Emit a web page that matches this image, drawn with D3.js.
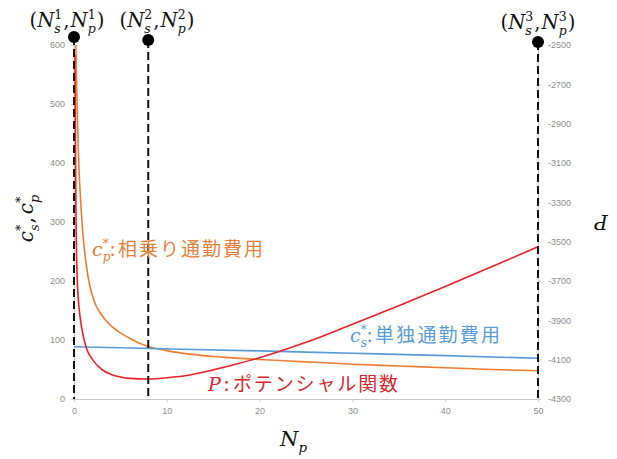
<!DOCTYPE html>
<html><head><meta charset="utf-8">
<script src="https://cdn.jsdelivr.net/npm/d3@7"></script>
<style>
body{margin:0;background:#fff;}
svg{display:block;}
</style></head>
<body>
<svg id="chart" width="617" height="459"></svg>
<script>
// ---------- data ----------
const xTicks = [0, 10, 20, 30, 40, 50];
const leftTicks = [0, 100, 200, 300, 400, 500, 600];
const rightTicks = [-4300, -4100, -3900, -3700, -3500, -3300, -3100, -2900, -2700, -2500];

// c_s* (single commute cost), left axis
const npBlue = [0, 10, 20, 30, 40, 50];
const csVals = [88.5, 85, 81.5, 77.5, 73.5, 69];

// c_p* (ride-share commute cost), left axis
const npOrange = [0.2, 0.3, 0.45, 0.6, 0.8, 1.0, 1.3, 1.7, 2.2, 3, 4, 5, 6, 7, 8, 10, 12.5, 16, 20, 25, 30, 35, 40, 45, 50];
const cpVals   = [600, 520, 430, 370, 315, 272, 230, 192, 165, 142, 124, 112, 103, 95, 89, 82, 76, 71, 67, 63, 59, 56, 53, 50, 48];

// P (potential function), right axis
const npRed = [0.1, 0.2, 0.3, 0.45, 0.65, 1.0, 1.4, 2, 3, 4, 5, 6, 8, 10, 12.5, 15, 17.5, 20, 25, 30, 35, 40, 45, 50];
const pVals = [-2550, -3300, -3620, -3780, -3880, -3980, -4050, -4100, -4150, -4175, -4188, -4195, -4198, -4192, -4178, -4152, -4122, -4090, -4012, -3920, -3826, -3728, -3628, -3526];

// equilibrium markers (N_p values)
const eqNp = [0, 8, 50];
const eqIdx = ["1", "2", "3"];

// ---------- chart ----------
const svg = d3.select("#chart");
const x = d3.scaleLinear().domain([0, 50]).range([74, 538]);
const yL = d3.scaleLinear().domain([0, 600]).range([399, 45]);
const yR = d3.scaleLinear().domain([-4300, -2500]).range([399, 45]);

const tickFont = "Liberation Sans, Arial, sans-serif";
const tickColor = "#8c8c8c";

function styleAxis(g) {
  g.selectAll("text").attr("font-family", tickFont).attr("font-size", 9).attr("fill", tickColor);
  g.selectAll("line").attr("stroke", "#d0d0d0");
  g.select(".domain").attr("stroke", "#c8c8c8");
}

svg.append("g").attr("transform", "translate(0,399)")
  .call(d3.axisBottom(x).tickValues(xTicks).tickSize(3).tickPadding(6).tickSizeOuter(0))
  .call(styleAxis);
svg.append("g").attr("transform", "translate(74,0)")
  .call(d3.axisLeft(yL).tickValues(leftTicks).tickSize(3).tickPadding(6).tickSizeOuter(0))
  .call(styleAxis);
svg.append("g").attr("transform", "translate(538,0)")
  .call(d3.axisRight(yR).tickValues(rightTicks).tickSize(3).tickPadding(7).tickSizeOuter(0).tickFormat(d => String(d)))
  .call(styleAxis);

// curves
const lineL = d3.line().curve(d3.curveMonotoneX);
svg.append("path")
  .attr("d", lineL(npOrange.map((n, i) => [x(n), yL(cpVals[i])])))
  .attr("fill", "none").attr("stroke", "#ED7D31").attr("stroke-width", 1.6);
svg.append("path")
  .attr("d", lineL(npBlue.map((n, i) => [x(n), yL(csVals[i])])))
  .attr("fill", "none").attr("stroke", "#5B9BD5").attr("stroke-width", 1.6);
svg.append("path")
  .attr("d", lineL(npRed.map((n, i) => [x(n), yR(pVals[i])])))
  .attr("fill", "none").attr("stroke", "#E8212A").attr("stroke-width", 1.6);

// dashed vertical lines + dots
const dotY = [37, 40, 42];
eqNp.forEach((n, i) => {
  svg.append("line").attr("x1", x(n)).attr("x2", x(n)).attr("y1", dotY[i]).attr("y2", 399)
    .attr("stroke", "#111").attr("stroke-width", 2).attr("stroke-dasharray", "8,4");
  svg.append("circle").attr("cx", x(n)).attr("cy", dotY[i]).attr("r", 6).attr("fill", "#000");
});

// math text helper
function drawMath(g, items, fs) {
  let cx = 0;
  items.forEach(it => {
    if (it.base !== undefined) {
      const t = g.append("text").attr("x", cx).attr("y", 0).attr("font-size", fs)
        .attr("font-style", it.it ? "italic" : "normal").text(it.base);
      cx += t.node().getComputedTextLength() + (it.kern || 0);
    } else {
      let w = 0;
      if (it.sup) {
        const t = g.append("text").attr("x", cx).attr("y", -fs * 0.40).attr("font-size", fs * 0.64)
          .attr("font-style", it.supIt ? "italic" : "normal").text(it.sup);
        w = Math.max(w, t.node().getComputedTextLength());
      }
      if (it.sub) {
        const t = g.append("text").attr("x", cx).attr("y", fs * 0.28).attr("font-size", fs * 0.64)
          .attr("font-style", "italic").text(it.sub);
        w = Math.max(w, t.node().getComputedTextLength());
      }
      cx += w + 1;
    }
  });
  return cx;
}

const serif = "DejaVu Serif, Liberation Serif, serif";

// top labels (N_s^k, N_p^k)
const topCenters = [67, 157, 538];
const topBase = [27, 27, 29];
eqIdx.forEach((k, i) => {
  const g = svg.append("g").attr("font-family", serif).attr("fill", "#111");
  const w = drawMath(g, [
    {base: "("}, {base: "N", it: true}, {sup: k, sub: "s"},
    {base: ",", kern: 1}, {base: "N", it: true}, {sup: k, sub: "p"}, {base: ")"}
  ], 20);
  const sx = 75 / w;
  g.attr("transform", `translate(${topCenters[i] - 37.5},${topBase[i]}) scale(${sx},1)`);
});

// left axis title c_s*, c_p*
{
  const g = svg.append("g").attr("font-family", serif).attr("fill", "#111");
  const w = drawMath(g, [
    {base: "c", it: true}, {sup: "*", sub: "s"}, {base: ",", kern: 3},
    {base: "c", it: true}, {sup: "*", sub: "p"}
  ], 20);
  g.attr("transform", `translate(33,${218 + w / 2}) rotate(-90)`);
}

// right axis title P
svg.append("text").attr("font-family", serif).attr("font-style", "italic").attr("font-size", 20)
  .attr("fill", "#111").attr("text-anchor", "middle")
  .attr("transform", "translate(601,215) rotate(180)").text("P");

// bottom axis title N_p
{
  const g = svg.append("g").attr("font-family", serif).attr("fill", "#111");
  const w = drawMath(g, [{base: "N", it: true}, {sub: "p"}], 21);
  g.attr("transform", `translate(${294 - w / 2},446)`);
}

// series labels
const cjk = "Noto Sans CJK JP, Noto Sans CJK SC, sans-serif";
function seriesLabel(xc, yb, sub, colonX, restX, restW, rest, color, fs) {
  const g = svg.append("g").attr("fill", color);
  const gm = g.append("g").attr("font-family", serif).attr("transform", `translate(${xc},${yb})`);
  drawMath(gm, [{base: "c", it: true}, {sup: "*", sub: sub}], fs);
  g.append("text").attr("x", colonX).attr("y", yb).attr("font-family", cjk).attr("font-size", fs).text(":");
  g.append("text").attr("x", restX).attr("y", yb).attr("font-family", cjk)
    .attr("font-size", fs).attr("textLength", restW).attr("lengthAdjust", "spacing").text(rest);
}
seriesLabel(92, 256, "p", 110, 118, 145, "相乗り通勤費用", "#E5803A", 19);
seriesLabel(350, 342, "s", 367, 375, 125, "単独通勤費用", "#5B9BD5", 19);
{
  const g = svg.append("g").attr("fill", "#D9262A");
  g.append("text").attr("x", 208).attr("y", 391).attr("font-family", serif).attr("font-style", "italic")
    .attr("font-size", 19).text("P");
  g.append("text").attr("x", 224).attr("y", 391).attr("font-family", cjk).attr("font-size", 19).text(":");
  g.append("text").attr("x", 233).attr("y", 391).attr("font-family", cjk).attr("font-size", 19)
    .attr("textLength", 165).attr("lengthAdjust", "spacing").text("ポテンシャル関数");
}
</script>
</body></html>
